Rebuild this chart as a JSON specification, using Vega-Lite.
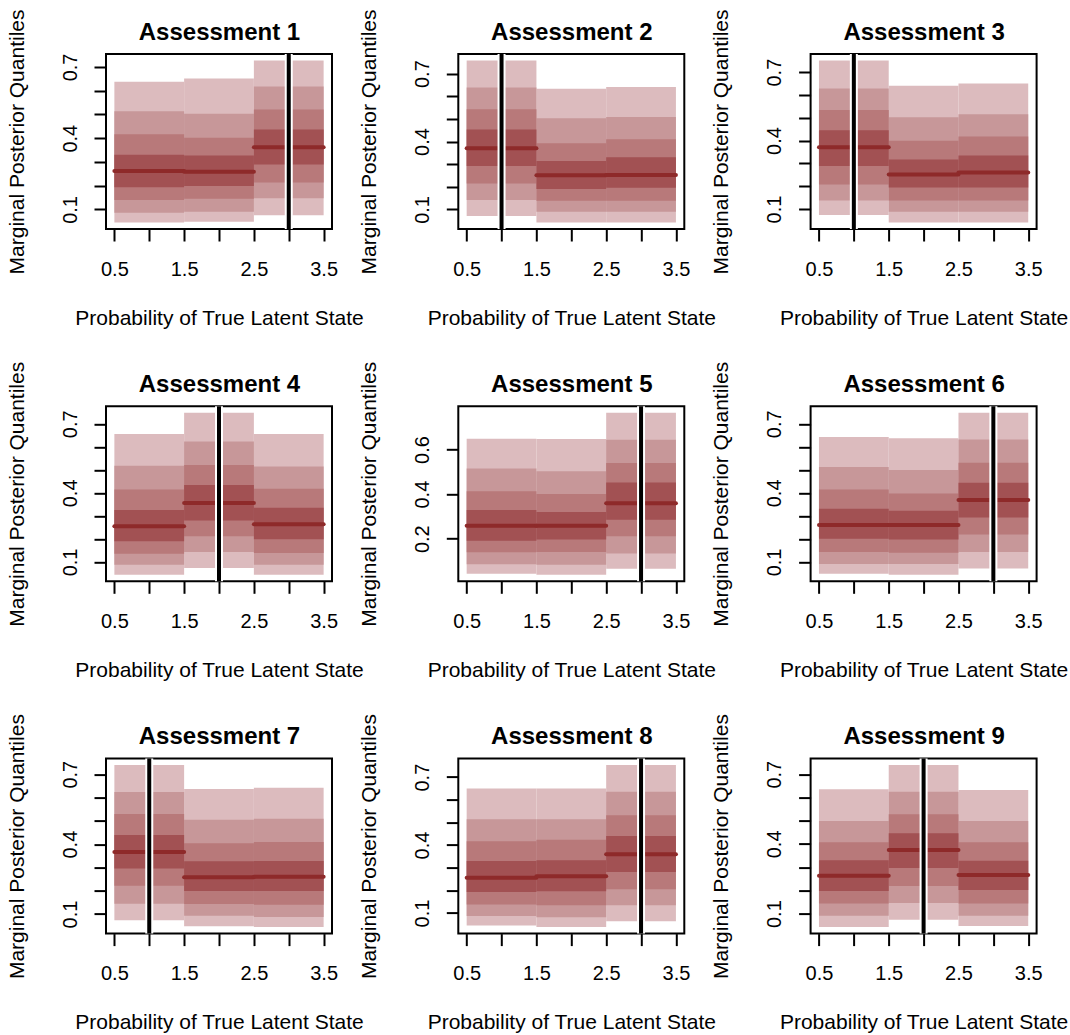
{
"$schema":"https://vega.github.io/schema/vega-lite/v6.json",
"background":"white",
"padding":{"left":4,"top":8,"right":0,"bottom":0},
"bounds":"flush",
"spacing":{"row":177.3,"column":126.3},
"columns":3,
"config":{
 "view":{"stroke":"black","strokeWidth":2},
 "axis":{"domain":false,"grid":false,"tickSize":12,"tickWidth":2,"tickColor":"black","labelFont":"Liberation Sans","labelFontSize":20,"labelColor":"black","titleFont":"Liberation Sans","titleFontSize":21,"titleFontWeight":"normal","titleColor":"black","labelOverlap":false,"labelFlush":false}
},
"datasets":{
"q":[
{"a":1,"s":1,"x0":0.5,"x1":1.5,"l1":0.045,"h1":0.637,"l2":0.086,"h2":0.513,"l3":0.140,"h3":0.416,"l4":0.193,"h4":0.330,"m":0.262},
{"a":1,"s":2,"x0":1.5,"x1":2.5,"l1":0.048,"h1":0.651,"l2":0.090,"h2":0.503,"l3":0.145,"h3":0.402,"l4":0.199,"h4":0.327,"m":0.259},
{"a":1,"s":3,"x0":2.5,"x1":3.5,"l1":0.076,"h1":0.727,"l2":0.147,"h2":0.618,"l3":0.213,"h3":0.521,"l4":0.289,"h4":0.437,"m":0.362},
{"a":2,"s":1,"x0":0.5,"x1":1.5,"l1":0.071,"h1":0.758,"l2":0.141,"h2":0.639,"l3":0.214,"h3":0.543,"l4":0.292,"h4":0.453,"m":0.370},
{"a":2,"s":2,"x0":1.5,"x1":2.5,"l1":0.042,"h1":0.633,"l2":0.090,"h2":0.503,"l3":0.138,"h3":0.392,"l4":0.190,"h4":0.314,"m":0.251},
{"a":2,"s":3,"x0":2.5,"x1":3.5,"l1":0.042,"h1":0.641,"l2":0.090,"h2":0.508,"l3":0.138,"h3":0.410,"l4":0.196,"h4":0.330,"m":0.252},
{"a":3,"s":1,"x0":0.5,"x1":1.5,"l1":0.074,"h1":0.751,"l2":0.137,"h2":0.628,"l3":0.208,"h3":0.534,"l4":0.289,"h4":0.445,"m":0.371},
{"a":3,"s":2,"x0":1.5,"x1":2.5,"l1":0.041,"h1":0.640,"l2":0.088,"h2":0.502,"l3":0.137,"h3":0.399,"l4":0.194,"h4":0.317,"m":0.251},
{"a":3,"s":3,"x0":2.5,"x1":3.5,"l1":0.041,"h1":0.650,"l2":0.088,"h2":0.515,"l3":0.137,"h3":0.418,"l4":0.194,"h4":0.335,"m":0.260},
{"a":4,"s":1,"x0":0.5,"x1":1.5,"l1":0.044,"h1":0.656,"l2":0.088,"h2":0.518,"l3":0.136,"h3":0.415,"l4":0.190,"h4":0.326,"m":0.255},
{"a":4,"s":2,"x0":1.5,"x1":2.5,"l1":0.074,"h1":0.748,"l2":0.143,"h2":0.623,"l3":0.212,"h3":0.521,"l4":0.280,"h4":0.434,"m":0.356},
{"a":4,"s":3,"x0":2.5,"x1":3.5,"l1":0.044,"h1":0.656,"l2":0.088,"h2":0.515,"l3":0.139,"h3":0.418,"l4":0.199,"h4":0.335,"m":0.264},
{"a":5,"s":1,"x0":0.5,"x1":1.5,"l1":0.043,"h1":0.649,"l2":0.085,"h2":0.515,"l3":0.139,"h3":0.413,"l4":0.191,"h4":0.329,"m":0.258},
{"a":5,"s":2,"x0":1.5,"x1":2.5,"l1":0.038,"h1":0.647,"l2":0.083,"h2":0.503,"l3":0.140,"h3":0.401,"l4":0.196,"h4":0.320,"m":0.258},
{"a":5,"s":3,"x0":2.5,"x1":3.5,"l1":0.065,"h1":0.765,"l2":0.134,"h2":0.644,"l3":0.211,"h3":0.540,"l4":0.285,"h4":0.452,"m":0.359},
{"a":6,"s":1,"x0":0.5,"x1":1.5,"l1":0.049,"h1":0.643,"l2":0.091,"h2":0.512,"l3":0.143,"h3":0.415,"l4":0.201,"h4":0.331,"m":0.260},
{"a":6,"s":2,"x0":1.5,"x1":2.5,"l1":0.044,"h1":0.637,"l2":0.091,"h2":0.499,"l3":0.140,"h3":0.397,"l4":0.197,"h4":0.322,"m":0.260},
{"a":6,"s":3,"x0":2.5,"x1":3.5,"l1":0.071,"h1":0.748,"l2":0.143,"h2":0.632,"l3":0.219,"h3":0.531,"l4":0.293,"h4":0.444,"m":0.369},
{"a":7,"s":1,"x0":0.5,"x1":1.5,"l1":0.073,"h1":0.739,"l2":0.144,"h2":0.624,"l3":0.221,"h3":0.529,"l4":0.295,"h4":0.439,"m":0.366},
{"a":7,"s":2,"x0":1.5,"x1":2.5,"l1":0.048,"h1":0.636,"l2":0.093,"h2":0.505,"l3":0.143,"h3":0.404,"l4":0.199,"h4":0.326,"m":0.258},
{"a":7,"s":3,"x0":2.5,"x1":3.5,"l1":0.044,"h1":0.642,"l2":0.087,"h2":0.509,"l3":0.140,"h3":0.409,"l4":0.199,"h4":0.328,"m":0.260},
{"a":8,"s":1,"x0":0.5,"x1":1.5,"l1":0.045,"h1":0.650,"l2":0.087,"h2":0.514,"l3":0.138,"h3":0.417,"l4":0.193,"h4":0.330,"m":0.256},
{"a":8,"s":2,"x0":1.5,"x1":2.5,"l1":0.038,"h1":0.650,"l2":0.082,"h2":0.514,"l3":0.134,"h3":0.424,"l4":0.196,"h4":0.333,"m":0.263},
{"a":8,"s":3,"x0":2.5,"x1":3.5,"l1":0.064,"h1":0.753,"l2":0.134,"h2":0.635,"l3":0.205,"h3":0.532,"l4":0.281,"h4":0.440,"m":0.359},
{"a":9,"s":1,"x0":0.5,"x1":1.5,"l1":0.042,"h1":0.635,"l2":0.091,"h2":0.499,"l3":0.144,"h3":0.407,"l4":0.197,"h4":0.330,"m":0.263},
{"a":9,"s":2,"x0":1.5,"x1":2.5,"l1":0.074,"h1":0.739,"l2":0.146,"h2":0.624,"l3":0.219,"h3":0.528,"l4":0.296,"h4":0.446,"m":0.374},
{"a":9,"s":3,"x0":2.5,"x1":3.5,"l1":0.047,"h1":0.632,"l2":0.091,"h2":0.499,"l3":0.144,"h3":0.407,"l4":0.202,"h4":0.327,"m":0.266}
],
"t":[{"a":1,"t":3},{"a":2,"t":1},{"a":3,"t":1},{"a":4,"t":2},{"a":5,"t":3},{"a":6,"t":3},{"a":7,"t":1},{"a":8,"t":3},{"a":9,"t":2}]
},
"concat":[
{"width":226,"height":175,"resolve":{"axis":{"x":"independent","y":"independent"}},"layer":[
{"data":{"name":"q"},"transform":[{"filter":"datum.a==1"}],"mark":{"type":"rect","fill":"#DCBBBE"},"encoding":{"x":{"field":"x0","type":"quantitative","scale":{"domain":[0.38,3.62],"nice":false},"axis":{"orient":"bottom","values":[0.5,1,1.5,2,2.5,3,3.5],"format":".1f","labelExpr":"datum.value % 1 == 0.5 ? datum.label : ''","labelOverlap":false,"title":"Probability of True Latent State","titleX":113,"titleY":95,"titleAlign":"center","titleBaseline":"alphabetic","labelBaseline":"alphabetic","labelPadding":34}},"x2":{"field":"x1"},"y":{"field":"l1","type":"quantitative","scale":{"domain":[0.0177,0.7543],"nice":false,"zero":false},"axis":{"orient":"left","values":[0.1,0.2,0.3,0.4,0.5,0.6,0.7],"format":".1f","labelExpr":"(datum.label=='0.1'||datum.label=='0.4'||datum.label=='0.7') ? datum.label : ''","labelOverlap":false,"title":"Marginal Posterior Quantiles","labelAngle":-90,"labelAlign":"center","labelBaseline":"line-bottom","labelLineHeight":44,"labelPadding":2,"titleAngle":-90,"titleX":-83,"titleY":87.5,"titleAlign":"center","titleBaseline":"alphabetic"}},"y2":{"field":"h1"}}},
{"data":{"name":"q"},"transform":[{"filter":"datum.a==1"}],"mark":{"type":"rect","fill":"#C79799"},"encoding":{"x":{"field":"x0","type":"quantitative","axis":null},"x2":{"field":"x1"},"y":{"field":"l2","type":"quantitative","axis":null},"y2":{"field":"h2"}}},
{"data":{"name":"q"},"transform":[{"filter":"datum.a==1"}],"mark":{"type":"rect","fill":"#B8797A"},"encoding":{"x":{"field":"x0","type":"quantitative","axis":null},"x2":{"field":"x1"},"y":{"field":"l3","type":"quantitative","axis":null},"y2":{"field":"h3"}}},
{"data":{"name":"q"},"transform":[{"filter":"datum.a==1"}],"mark":{"type":"rect","fill":"#A25153"},"encoding":{"x":{"field":"x0","type":"quantitative","axis":null},"x2":{"field":"x1"},"y":{"field":"l4","type":"quantitative","axis":null},"y2":{"field":"h4"}}},
{"data":{"name":"q"},"transform":[{"filter":"datum.a==1"}],"mark":{"type":"rule","color":"#8E2A2A","strokeWidth":4,"strokeCap":"round"},"encoding":{"x":{"field":"x0","type":"quantitative","axis":{"orient":"top","title":"Assessment 1","ticks":false,"labels":false,"titleX":113,"titleY":-15,"titleAlign":"center","titleBaseline":"alphabetic","titleFontSize":24,"titleFontWeight":"bold"}},"x2":{"field":"x1"},"y":{"field":"m","type":"quantitative","axis":null}}},
{"data":{"name":"t"},"transform":[{"filter":"datum.a==1"}],"mark":{"type":"rule","color":"white","strokeWidth":8},"encoding":{"x":{"field":"t","type":"quantitative","axis":null}}},
{"data":{"name":"t"},"transform":[{"filter":"datum.a==1"}],"mark":{"type":"rule","color":"black","strokeWidth":4},"encoding":{"x":{"field":"t","type":"quantitative","axis":null}}}
]},
{"width":226,"height":175,"resolve":{"axis":{"x":"independent","y":"independent"}},"layer":[
{"data":{"name":"q"},"transform":[{"filter":"datum.a==2"}],"mark":{"type":"rect","fill":"#DCBBBE"},"encoding":{"x":{"field":"x0","type":"quantitative","scale":{"domain":[0.38,3.62],"nice":false},"axis":{"orient":"bottom","values":[0.5,1,1.5,2,2.5,3,3.5],"format":".1f","labelExpr":"datum.value % 1 == 0.5 ? datum.label : ''","labelOverlap":false,"title":"Probability of True Latent State","titleX":113,"titleY":95,"titleAlign":"center","titleBaseline":"alphabetic","labelBaseline":"alphabetic","labelPadding":34}},"x2":{"field":"x1"},"y":{"field":"l1","type":"quantitative","scale":{"domain":[0.0134,0.7866],"nice":false,"zero":false},"axis":{"orient":"left","values":[0.1,0.2,0.3,0.4,0.5,0.6,0.7],"format":".1f","labelExpr":"(datum.label=='0.1'||datum.label=='0.4'||datum.label=='0.7') ? datum.label : ''","labelOverlap":false,"title":"Marginal Posterior Quantiles","labelAngle":-90,"labelAlign":"center","labelBaseline":"line-bottom","labelLineHeight":44,"labelPadding":2,"titleAngle":-90,"titleX":-83,"titleY":87.5,"titleAlign":"center","titleBaseline":"alphabetic"}},"y2":{"field":"h1"}}},
{"data":{"name":"q"},"transform":[{"filter":"datum.a==2"}],"mark":{"type":"rect","fill":"#C79799"},"encoding":{"x":{"field":"x0","type":"quantitative","axis":null},"x2":{"field":"x1"},"y":{"field":"l2","type":"quantitative","axis":null},"y2":{"field":"h2"}}},
{"data":{"name":"q"},"transform":[{"filter":"datum.a==2"}],"mark":{"type":"rect","fill":"#B8797A"},"encoding":{"x":{"field":"x0","type":"quantitative","axis":null},"x2":{"field":"x1"},"y":{"field":"l3","type":"quantitative","axis":null},"y2":{"field":"h3"}}},
{"data":{"name":"q"},"transform":[{"filter":"datum.a==2"}],"mark":{"type":"rect","fill":"#A25153"},"encoding":{"x":{"field":"x0","type":"quantitative","axis":null},"x2":{"field":"x1"},"y":{"field":"l4","type":"quantitative","axis":null},"y2":{"field":"h4"}}},
{"data":{"name":"q"},"transform":[{"filter":"datum.a==2"}],"mark":{"type":"rule","color":"#8E2A2A","strokeWidth":4,"strokeCap":"round"},"encoding":{"x":{"field":"x0","type":"quantitative","axis":{"orient":"top","title":"Assessment 2","ticks":false,"labels":false,"titleX":113,"titleY":-15,"titleAlign":"center","titleBaseline":"alphabetic","titleFontSize":24,"titleFontWeight":"bold"}},"x2":{"field":"x1"},"y":{"field":"m","type":"quantitative","axis":null}}},
{"data":{"name":"t"},"transform":[{"filter":"datum.a==2"}],"mark":{"type":"rule","color":"white","strokeWidth":8},"encoding":{"x":{"field":"t","type":"quantitative","axis":null}}},
{"data":{"name":"t"},"transform":[{"filter":"datum.a==2"}],"mark":{"type":"rule","color":"black","strokeWidth":4},"encoding":{"x":{"field":"t","type":"quantitative","axis":null}}}
]},
{"width":226,"height":175,"resolve":{"axis":{"x":"independent","y":"independent"}},"layer":[
{"data":{"name":"q"},"transform":[{"filter":"datum.a==3"}],"mark":{"type":"rect","fill":"#DCBBBE"},"encoding":{"x":{"field":"x0","type":"quantitative","scale":{"domain":[0.38,3.62],"nice":false},"axis":{"orient":"bottom","values":[0.5,1,1.5,2,2.5,3,3.5],"format":".1f","labelExpr":"datum.value % 1 == 0.5 ? datum.label : ''","labelOverlap":false,"title":"Probability of True Latent State","titleX":113,"titleY":95,"titleAlign":"center","titleBaseline":"alphabetic","labelBaseline":"alphabetic","labelPadding":34}},"x2":{"field":"x1"},"y":{"field":"l1","type":"quantitative","scale":{"domain":[0.0126,0.7794],"nice":false,"zero":false},"axis":{"orient":"left","values":[0.1,0.2,0.3,0.4,0.5,0.6,0.7],"format":".1f","labelExpr":"(datum.label=='0.1'||datum.label=='0.4'||datum.label=='0.7') ? datum.label : ''","labelOverlap":false,"title":"Marginal Posterior Quantiles","labelAngle":-90,"labelAlign":"center","labelBaseline":"line-bottom","labelLineHeight":44,"labelPadding":2,"titleAngle":-90,"titleX":-83,"titleY":87.5,"titleAlign":"center","titleBaseline":"alphabetic"}},"y2":{"field":"h1"}}},
{"data":{"name":"q"},"transform":[{"filter":"datum.a==3"}],"mark":{"type":"rect","fill":"#C79799"},"encoding":{"x":{"field":"x0","type":"quantitative","axis":null},"x2":{"field":"x1"},"y":{"field":"l2","type":"quantitative","axis":null},"y2":{"field":"h2"}}},
{"data":{"name":"q"},"transform":[{"filter":"datum.a==3"}],"mark":{"type":"rect","fill":"#B8797A"},"encoding":{"x":{"field":"x0","type":"quantitative","axis":null},"x2":{"field":"x1"},"y":{"field":"l3","type":"quantitative","axis":null},"y2":{"field":"h3"}}},
{"data":{"name":"q"},"transform":[{"filter":"datum.a==3"}],"mark":{"type":"rect","fill":"#A25153"},"encoding":{"x":{"field":"x0","type":"quantitative","axis":null},"x2":{"field":"x1"},"y":{"field":"l4","type":"quantitative","axis":null},"y2":{"field":"h4"}}},
{"data":{"name":"q"},"transform":[{"filter":"datum.a==3"}],"mark":{"type":"rule","color":"#8E2A2A","strokeWidth":4,"strokeCap":"round"},"encoding":{"x":{"field":"x0","type":"quantitative","axis":{"orient":"top","title":"Assessment 3","ticks":false,"labels":false,"titleX":113,"titleY":-15,"titleAlign":"center","titleBaseline":"alphabetic","titleFontSize":24,"titleFontWeight":"bold"}},"x2":{"field":"x1"},"y":{"field":"m","type":"quantitative","axis":null}}},
{"data":{"name":"t"},"transform":[{"filter":"datum.a==3"}],"mark":{"type":"rule","color":"white","strokeWidth":8},"encoding":{"x":{"field":"t","type":"quantitative","axis":null}}},
{"data":{"name":"t"},"transform":[{"filter":"datum.a==3"}],"mark":{"type":"rule","color":"black","strokeWidth":4},"encoding":{"x":{"field":"t","type":"quantitative","axis":null}}}
]},
{"width":226,"height":175,"resolve":{"axis":{"x":"independent","y":"independent"}},"layer":[
{"data":{"name":"q"},"transform":[{"filter":"datum.a==4"}],"mark":{"type":"rect","fill":"#DCBBBE"},"encoding":{"x":{"field":"x0","type":"quantitative","scale":{"domain":[0.38,3.62],"nice":false},"axis":{"orient":"bottom","values":[0.5,1,1.5,2,2.5,3,3.5],"format":".1f","labelExpr":"datum.value % 1 == 0.5 ? datum.label : ''","labelOverlap":false,"title":"Probability of True Latent State","titleX":113,"titleY":95,"titleAlign":"center","titleBaseline":"alphabetic","labelBaseline":"alphabetic","labelPadding":34}},"x2":{"field":"x1"},"y":{"field":"l1","type":"quantitative","scale":{"domain":[0.0158,0.7762],"nice":false,"zero":false},"axis":{"orient":"left","values":[0.1,0.2,0.3,0.4,0.5,0.6,0.7],"format":".1f","labelExpr":"(datum.label=='0.1'||datum.label=='0.4'||datum.label=='0.7') ? datum.label : ''","labelOverlap":false,"title":"Marginal Posterior Quantiles","labelAngle":-90,"labelAlign":"center","labelBaseline":"line-bottom","labelLineHeight":44,"labelPadding":2,"titleAngle":-90,"titleX":-83,"titleY":87.5,"titleAlign":"center","titleBaseline":"alphabetic"}},"y2":{"field":"h1"}}},
{"data":{"name":"q"},"transform":[{"filter":"datum.a==4"}],"mark":{"type":"rect","fill":"#C79799"},"encoding":{"x":{"field":"x0","type":"quantitative","axis":null},"x2":{"field":"x1"},"y":{"field":"l2","type":"quantitative","axis":null},"y2":{"field":"h2"}}},
{"data":{"name":"q"},"transform":[{"filter":"datum.a==4"}],"mark":{"type":"rect","fill":"#B8797A"},"encoding":{"x":{"field":"x0","type":"quantitative","axis":null},"x2":{"field":"x1"},"y":{"field":"l3","type":"quantitative","axis":null},"y2":{"field":"h3"}}},
{"data":{"name":"q"},"transform":[{"filter":"datum.a==4"}],"mark":{"type":"rect","fill":"#A25153"},"encoding":{"x":{"field":"x0","type":"quantitative","axis":null},"x2":{"field":"x1"},"y":{"field":"l4","type":"quantitative","axis":null},"y2":{"field":"h4"}}},
{"data":{"name":"q"},"transform":[{"filter":"datum.a==4"}],"mark":{"type":"rule","color":"#8E2A2A","strokeWidth":4,"strokeCap":"round"},"encoding":{"x":{"field":"x0","type":"quantitative","axis":{"orient":"top","title":"Assessment 4","ticks":false,"labels":false,"titleX":113,"titleY":-15,"titleAlign":"center","titleBaseline":"alphabetic","titleFontSize":24,"titleFontWeight":"bold"}},"x2":{"field":"x1"},"y":{"field":"m","type":"quantitative","axis":null}}},
{"data":{"name":"t"},"transform":[{"filter":"datum.a==4"}],"mark":{"type":"rule","color":"white","strokeWidth":8},"encoding":{"x":{"field":"t","type":"quantitative","axis":null}}},
{"data":{"name":"t"},"transform":[{"filter":"datum.a==4"}],"mark":{"type":"rule","color":"black","strokeWidth":4},"encoding":{"x":{"field":"t","type":"quantitative","axis":null}}}
]},
{"width":226,"height":175,"resolve":{"axis":{"x":"independent","y":"independent"}},"layer":[
{"data":{"name":"q"},"transform":[{"filter":"datum.a==5"}],"mark":{"type":"rect","fill":"#DCBBBE"},"encoding":{"x":{"field":"x0","type":"quantitative","scale":{"domain":[0.38,3.62],"nice":false},"axis":{"orient":"bottom","values":[0.5,1,1.5,2,2.5,3,3.5],"format":".1f","labelExpr":"datum.value % 1 == 0.5 ? datum.label : ''","labelOverlap":false,"title":"Probability of True Latent State","titleX":113,"titleY":95,"titleAlign":"center","titleBaseline":"alphabetic","labelBaseline":"alphabetic","labelPadding":34}},"x2":{"field":"x1"},"y":{"field":"l1","type":"quantitative","scale":{"domain":[0.0089,0.7941],"nice":false,"zero":false},"axis":{"orient":"left","values":[0.2,0.4,0.6],"format":".1f","labelOverlap":false,"title":"Marginal Posterior Quantiles","labelAngle":-90,"labelAlign":"center","labelBaseline":"line-bottom","labelLineHeight":44,"labelPadding":2,"titleAngle":-90,"titleX":-83,"titleY":87.5,"titleAlign":"center","titleBaseline":"alphabetic"}},"y2":{"field":"h1"}}},
{"data":{"name":"q"},"transform":[{"filter":"datum.a==5"}],"mark":{"type":"rect","fill":"#C79799"},"encoding":{"x":{"field":"x0","type":"quantitative","axis":null},"x2":{"field":"x1"},"y":{"field":"l2","type":"quantitative","axis":null},"y2":{"field":"h2"}}},
{"data":{"name":"q"},"transform":[{"filter":"datum.a==5"}],"mark":{"type":"rect","fill":"#B8797A"},"encoding":{"x":{"field":"x0","type":"quantitative","axis":null},"x2":{"field":"x1"},"y":{"field":"l3","type":"quantitative","axis":null},"y2":{"field":"h3"}}},
{"data":{"name":"q"},"transform":[{"filter":"datum.a==5"}],"mark":{"type":"rect","fill":"#A25153"},"encoding":{"x":{"field":"x0","type":"quantitative","axis":null},"x2":{"field":"x1"},"y":{"field":"l4","type":"quantitative","axis":null},"y2":{"field":"h4"}}},
{"data":{"name":"q"},"transform":[{"filter":"datum.a==5"}],"mark":{"type":"rule","color":"#8E2A2A","strokeWidth":4,"strokeCap":"round"},"encoding":{"x":{"field":"x0","type":"quantitative","axis":{"orient":"top","title":"Assessment 5","ticks":false,"labels":false,"titleX":113,"titleY":-15,"titleAlign":"center","titleBaseline":"alphabetic","titleFontSize":24,"titleFontWeight":"bold"}},"x2":{"field":"x1"},"y":{"field":"m","type":"quantitative","axis":null}}},
{"data":{"name":"t"},"transform":[{"filter":"datum.a==5"}],"mark":{"type":"rule","color":"white","strokeWidth":8},"encoding":{"x":{"field":"t","type":"quantitative","axis":null}}},
{"data":{"name":"t"},"transform":[{"filter":"datum.a==5"}],"mark":{"type":"rule","color":"black","strokeWidth":4},"encoding":{"x":{"field":"t","type":"quantitative","axis":null}}}
]},
{"width":226,"height":175,"resolve":{"axis":{"x":"independent","y":"independent"}},"layer":[
{"data":{"name":"q"},"transform":[{"filter":"datum.a==6"}],"mark":{"type":"rect","fill":"#DCBBBE"},"encoding":{"x":{"field":"x0","type":"quantitative","scale":{"domain":[0.38,3.62],"nice":false},"axis":{"orient":"bottom","values":[0.5,1,1.5,2,2.5,3,3.5],"format":".1f","labelExpr":"datum.value % 1 == 0.5 ? datum.label : ''","labelOverlap":false,"title":"Probability of True Latent State","titleX":113,"titleY":95,"titleAlign":"center","titleBaseline":"alphabetic","labelBaseline":"alphabetic","labelPadding":34}},"x2":{"field":"x1"},"y":{"field":"l1","type":"quantitative","scale":{"domain":[0.0158,0.7762],"nice":false,"zero":false},"axis":{"orient":"left","values":[0.1,0.2,0.3,0.4,0.5,0.6,0.7],"format":".1f","labelExpr":"(datum.label=='0.1'||datum.label=='0.4'||datum.label=='0.7') ? datum.label : ''","labelOverlap":false,"title":"Marginal Posterior Quantiles","labelAngle":-90,"labelAlign":"center","labelBaseline":"line-bottom","labelLineHeight":44,"labelPadding":2,"titleAngle":-90,"titleX":-83,"titleY":87.5,"titleAlign":"center","titleBaseline":"alphabetic"}},"y2":{"field":"h1"}}},
{"data":{"name":"q"},"transform":[{"filter":"datum.a==6"}],"mark":{"type":"rect","fill":"#C79799"},"encoding":{"x":{"field":"x0","type":"quantitative","axis":null},"x2":{"field":"x1"},"y":{"field":"l2","type":"quantitative","axis":null},"y2":{"field":"h2"}}},
{"data":{"name":"q"},"transform":[{"filter":"datum.a==6"}],"mark":{"type":"rect","fill":"#B8797A"},"encoding":{"x":{"field":"x0","type":"quantitative","axis":null},"x2":{"field":"x1"},"y":{"field":"l3","type":"quantitative","axis":null},"y2":{"field":"h3"}}},
{"data":{"name":"q"},"transform":[{"filter":"datum.a==6"}],"mark":{"type":"rect","fill":"#A25153"},"encoding":{"x":{"field":"x0","type":"quantitative","axis":null},"x2":{"field":"x1"},"y":{"field":"l4","type":"quantitative","axis":null},"y2":{"field":"h4"}}},
{"data":{"name":"q"},"transform":[{"filter":"datum.a==6"}],"mark":{"type":"rule","color":"#8E2A2A","strokeWidth":4,"strokeCap":"round"},"encoding":{"x":{"field":"x0","type":"quantitative","axis":{"orient":"top","title":"Assessment 6","ticks":false,"labels":false,"titleX":113,"titleY":-15,"titleAlign":"center","titleBaseline":"alphabetic","titleFontSize":24,"titleFontWeight":"bold"}},"x2":{"field":"x1"},"y":{"field":"m","type":"quantitative","axis":null}}},
{"data":{"name":"t"},"transform":[{"filter":"datum.a==6"}],"mark":{"type":"rule","color":"white","strokeWidth":8},"encoding":{"x":{"field":"t","type":"quantitative","axis":null}}},
{"data":{"name":"t"},"transform":[{"filter":"datum.a==6"}],"mark":{"type":"rule","color":"black","strokeWidth":4},"encoding":{"x":{"field":"t","type":"quantitative","axis":null}}}
]},
{"width":226,"height":175,"resolve":{"axis":{"x":"independent","y":"independent"}},"layer":[
{"data":{"name":"q"},"transform":[{"filter":"datum.a==7"}],"mark":{"type":"rect","fill":"#DCBBBE"},"encoding":{"x":{"field":"x0","type":"quantitative","scale":{"domain":[0.38,3.62],"nice":false},"axis":{"orient":"bottom","values":[0.5,1,1.5,2,2.5,3,3.5],"format":".1f","labelExpr":"datum.value % 1 == 0.5 ? datum.label : ''","labelOverlap":false,"title":"Probability of True Latent State","titleX":113,"titleY":95,"titleAlign":"center","titleBaseline":"alphabetic","labelBaseline":"alphabetic","labelPadding":34}},"x2":{"field":"x1"},"y":{"field":"l1","type":"quantitative","scale":{"domain":[0.0162,0.7668],"nice":false,"zero":false},"axis":{"orient":"left","values":[0.1,0.2,0.3,0.4,0.5,0.6,0.7],"format":".1f","labelExpr":"(datum.label=='0.1'||datum.label=='0.4'||datum.label=='0.7') ? datum.label : ''","labelOverlap":false,"title":"Marginal Posterior Quantiles","labelAngle":-90,"labelAlign":"center","labelBaseline":"line-bottom","labelLineHeight":44,"labelPadding":2,"titleAngle":-90,"titleX":-83,"titleY":87.5,"titleAlign":"center","titleBaseline":"alphabetic"}},"y2":{"field":"h1"}}},
{"data":{"name":"q"},"transform":[{"filter":"datum.a==7"}],"mark":{"type":"rect","fill":"#C79799"},"encoding":{"x":{"field":"x0","type":"quantitative","axis":null},"x2":{"field":"x1"},"y":{"field":"l2","type":"quantitative","axis":null},"y2":{"field":"h2"}}},
{"data":{"name":"q"},"transform":[{"filter":"datum.a==7"}],"mark":{"type":"rect","fill":"#B8797A"},"encoding":{"x":{"field":"x0","type":"quantitative","axis":null},"x2":{"field":"x1"},"y":{"field":"l3","type":"quantitative","axis":null},"y2":{"field":"h3"}}},
{"data":{"name":"q"},"transform":[{"filter":"datum.a==7"}],"mark":{"type":"rect","fill":"#A25153"},"encoding":{"x":{"field":"x0","type":"quantitative","axis":null},"x2":{"field":"x1"},"y":{"field":"l4","type":"quantitative","axis":null},"y2":{"field":"h4"}}},
{"data":{"name":"q"},"transform":[{"filter":"datum.a==7"}],"mark":{"type":"rule","color":"#8E2A2A","strokeWidth":4,"strokeCap":"round"},"encoding":{"x":{"field":"x0","type":"quantitative","axis":{"orient":"top","title":"Assessment 7","ticks":false,"labels":false,"titleX":113,"titleY":-15,"titleAlign":"center","titleBaseline":"alphabetic","titleFontSize":24,"titleFontWeight":"bold"}},"x2":{"field":"x1"},"y":{"field":"m","type":"quantitative","axis":null}}},
{"data":{"name":"t"},"transform":[{"filter":"datum.a==7"}],"mark":{"type":"rule","color":"white","strokeWidth":8},"encoding":{"x":{"field":"t","type":"quantitative","axis":null}}},
{"data":{"name":"t"},"transform":[{"filter":"datum.a==7"}],"mark":{"type":"rule","color":"black","strokeWidth":4},"encoding":{"x":{"field":"t","type":"quantitative","axis":null}}}
]},
{"width":226,"height":175,"resolve":{"axis":{"x":"independent","y":"independent"}},"layer":[
{"data":{"name":"q"},"transform":[{"filter":"datum.a==8"}],"mark":{"type":"rect","fill":"#DCBBBE"},"encoding":{"x":{"field":"x0","type":"quantitative","scale":{"domain":[0.38,3.62],"nice":false},"axis":{"orient":"bottom","values":[0.5,1,1.5,2,2.5,3,3.5],"format":".1f","labelExpr":"datum.value % 1 == 0.5 ? datum.label : ''","labelOverlap":false,"title":"Probability of True Latent State","titleX":113,"titleY":95,"titleAlign":"center","titleBaseline":"alphabetic","labelBaseline":"alphabetic","labelPadding":34}},"x2":{"field":"x1"},"y":{"field":"l1","type":"quantitative","scale":{"domain":[0.0094,0.7816],"nice":false,"zero":false},"axis":{"orient":"left","values":[0.1,0.2,0.3,0.4,0.5,0.6,0.7],"format":".1f","labelExpr":"(datum.label=='0.1'||datum.label=='0.4'||datum.label=='0.7') ? datum.label : ''","labelOverlap":false,"title":"Marginal Posterior Quantiles","labelAngle":-90,"labelAlign":"center","labelBaseline":"line-bottom","labelLineHeight":44,"labelPadding":2,"titleAngle":-90,"titleX":-83,"titleY":87.5,"titleAlign":"center","titleBaseline":"alphabetic"}},"y2":{"field":"h1"}}},
{"data":{"name":"q"},"transform":[{"filter":"datum.a==8"}],"mark":{"type":"rect","fill":"#C79799"},"encoding":{"x":{"field":"x0","type":"quantitative","axis":null},"x2":{"field":"x1"},"y":{"field":"l2","type":"quantitative","axis":null},"y2":{"field":"h2"}}},
{"data":{"name":"q"},"transform":[{"filter":"datum.a==8"}],"mark":{"type":"rect","fill":"#B8797A"},"encoding":{"x":{"field":"x0","type":"quantitative","axis":null},"x2":{"field":"x1"},"y":{"field":"l3","type":"quantitative","axis":null},"y2":{"field":"h3"}}},
{"data":{"name":"q"},"transform":[{"filter":"datum.a==8"}],"mark":{"type":"rect","fill":"#A25153"},"encoding":{"x":{"field":"x0","type":"quantitative","axis":null},"x2":{"field":"x1"},"y":{"field":"l4","type":"quantitative","axis":null},"y2":{"field":"h4"}}},
{"data":{"name":"q"},"transform":[{"filter":"datum.a==8"}],"mark":{"type":"rule","color":"#8E2A2A","strokeWidth":4,"strokeCap":"round"},"encoding":{"x":{"field":"x0","type":"quantitative","axis":{"orient":"top","title":"Assessment 8","ticks":false,"labels":false,"titleX":113,"titleY":-15,"titleAlign":"center","titleBaseline":"alphabetic","titleFontSize":24,"titleFontWeight":"bold"}},"x2":{"field":"x1"},"y":{"field":"m","type":"quantitative","axis":null}}},
{"data":{"name":"t"},"transform":[{"filter":"datum.a==8"}],"mark":{"type":"rule","color":"white","strokeWidth":8},"encoding":{"x":{"field":"t","type":"quantitative","axis":null}}},
{"data":{"name":"t"},"transform":[{"filter":"datum.a==8"}],"mark":{"type":"rule","color":"black","strokeWidth":4},"encoding":{"x":{"field":"t","type":"quantitative","axis":null}}}
]},
{"width":226,"height":175,"resolve":{"axis":{"x":"independent","y":"independent"}},"layer":[
{"data":{"name":"q"},"transform":[{"filter":"datum.a==9"}],"mark":{"type":"rect","fill":"#DCBBBE"},"encoding":{"x":{"field":"x0","type":"quantitative","scale":{"domain":[0.38,3.62],"nice":false},"axis":{"orient":"bottom","values":[0.5,1,1.5,2,2.5,3,3.5],"format":".1f","labelExpr":"datum.value % 1 == 0.5 ? datum.label : ''","labelOverlap":false,"title":"Probability of True Latent State","titleX":113,"titleY":95,"titleAlign":"center","titleBaseline":"alphabetic","labelBaseline":"alphabetic","labelPadding":34}},"x2":{"field":"x1"},"y":{"field":"l1","type":"quantitative","scale":{"domain":[0.0141,0.7669],"nice":false,"zero":false},"axis":{"orient":"left","values":[0.1,0.2,0.3,0.4,0.5,0.6,0.7],"format":".1f","labelExpr":"(datum.label=='0.1'||datum.label=='0.4'||datum.label=='0.7') ? datum.label : ''","labelOverlap":false,"title":"Marginal Posterior Quantiles","labelAngle":-90,"labelAlign":"center","labelBaseline":"line-bottom","labelLineHeight":44,"labelPadding":2,"titleAngle":-90,"titleX":-83,"titleY":87.5,"titleAlign":"center","titleBaseline":"alphabetic"}},"y2":{"field":"h1"}}},
{"data":{"name":"q"},"transform":[{"filter":"datum.a==9"}],"mark":{"type":"rect","fill":"#C79799"},"encoding":{"x":{"field":"x0","type":"quantitative","axis":null},"x2":{"field":"x1"},"y":{"field":"l2","type":"quantitative","axis":null},"y2":{"field":"h2"}}},
{"data":{"name":"q"},"transform":[{"filter":"datum.a==9"}],"mark":{"type":"rect","fill":"#B8797A"},"encoding":{"x":{"field":"x0","type":"quantitative","axis":null},"x2":{"field":"x1"},"y":{"field":"l3","type":"quantitative","axis":null},"y2":{"field":"h3"}}},
{"data":{"name":"q"},"transform":[{"filter":"datum.a==9"}],"mark":{"type":"rect","fill":"#A25153"},"encoding":{"x":{"field":"x0","type":"quantitative","axis":null},"x2":{"field":"x1"},"y":{"field":"l4","type":"quantitative","axis":null},"y2":{"field":"h4"}}},
{"data":{"name":"q"},"transform":[{"filter":"datum.a==9"}],"mark":{"type":"rule","color":"#8E2A2A","strokeWidth":4,"strokeCap":"round"},"encoding":{"x":{"field":"x0","type":"quantitative","axis":{"orient":"top","title":"Assessment 9","ticks":false,"labels":false,"titleX":113,"titleY":-15,"titleAlign":"center","titleBaseline":"alphabetic","titleFontSize":24,"titleFontWeight":"bold"}},"x2":{"field":"x1"},"y":{"field":"m","type":"quantitative","axis":null}}},
{"data":{"name":"t"},"transform":[{"filter":"datum.a==9"}],"mark":{"type":"rule","color":"white","strokeWidth":8},"encoding":{"x":{"field":"t","type":"quantitative","axis":null}}},
{"data":{"name":"t"},"transform":[{"filter":"datum.a==9"}],"mark":{"type":"rule","color":"black","strokeWidth":4},"encoding":{"x":{"field":"t","type":"quantitative","axis":null}}}
]}
]
}
